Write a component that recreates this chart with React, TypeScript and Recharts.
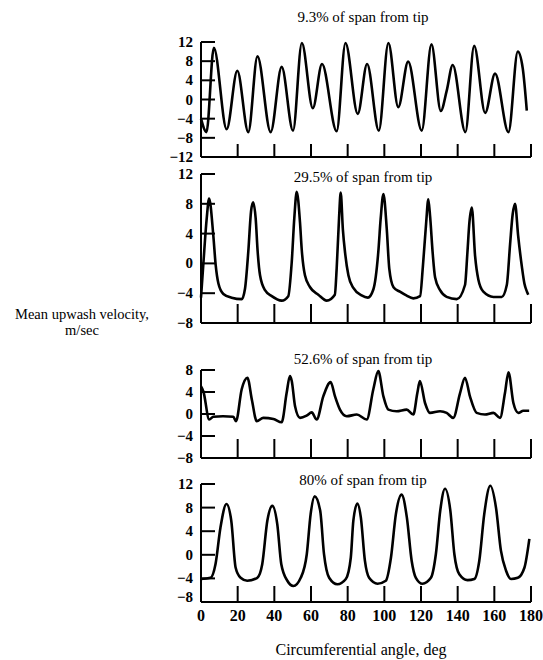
import { LineChart, Line, XAxis, YAxis } from 'recharts'

const serif = '"Liberation Serif", "DejaVu Serif", serif'

const angleTicks = [0, 20, 40, 60, 80, 100, 120, 140, 160, 180]

// 9.3% of span from tip
const tip93Angle = [0, 3, 7, 14, 19.8, 25.8, 30.8, 38, 44, 50.2, 55, 61, 66, 74, 78.8, 85.5, 90.6, 97, 102.2, 107.6, 113, 120.4, 125.7, 130.8, 134, 137.3, 144.2, 149, 155, 160.4, 167.7, 172.8, 175.5, 177.7]
const tip93Velocity = [-4, -6.8, 10.8, -6.2, 6, -6.8, 9, -6.8, 6.8, -6.5, 11.8, -1.8, 7.4, -6.6, 11.8, -3, 7.4, -6.5, 11.8, -1.6, 7.9, -6.5, 11.5, -2.4, 1.8, 7.2, -6.8, 11.2, -2.8, 5.4, -6.8, 10, 6.5, -2.3]

// 29.5% of span from tip
const tip295Angle = [0, 1.3, 3.1, 4.4, 6.7, 8, 9.5, 12.2, 16.7, 22.2, 24, 25.8, 27.3, 28.4, 29.8, 30.9, 32.2, 34.9, 38.6, 44, 47.6, 49.5, 50.9, 52.2, 54, 54.9, 56.7, 59.5, 64, 68.6, 73, 74, 75.3, 76.2, 77.4, 78.6, 80.4, 83.1, 87.6, 91, 94, 96.7, 98, 99.5, 101.3, 102.7, 105, 108.5, 112, 115.8, 119.5, 121, 122.8, 124, 125, 126.4, 127.7, 130.4, 134, 139.5, 144, 145.3, 146.4, 147.7, 149.5, 151.3, 154, 159.5, 164, 166.8, 168.6, 170, 171.3, 173, 175, 176.4, 177.8, 178.5]
const tip295Velocity = [-4.6, 0, 6, 8.7, 3.8, -0.2, -2.7, -4.1, -4.6, -4.8, -3.4, 1.6, 7, 8.2, 6.1, 1.6, -1.6, -3.6, -4.4, -5, -4.4, 0.2, 6.1, 9.6, 5.5, 2, -1.6, -3.2, -4.2, -5, -4.2, -0.7, 6.1, 9.5, 4.5, 1.4, -1.6, -3.3, -4.3, -4.6, -3.5, 1.5, 6, 9.3, 4.7, -0.7, -3.2, -3.8, -4.3, -4.7, -4.4, -0.5, 5.4, 8.6, 6.2, 1.3, -1.9, -3.6, -4.5, -4.8, -2.9, 1.4, 5.5, 7.5, 1, -2.2, -3.8, -4.5, -4.5, -2.9, 2.6, 6.6, 8, 3.7, -0.4, -2.7, -3.8, -4.2]

// 52.6% of span from tip
const tip526Angle = [0, 1.3, 4.5, 6.7, 12, 17.6, 19.1, 22.2, 25.3, 27.8, 30.4, 34, 39.5, 44, 46.7, 48.5, 49.5, 51.3, 54, 57.6, 60.4, 63.1, 66.7, 70.7, 73.1, 75.8, 79.5, 85, 90.4, 94, 96.7, 99.5, 102.2, 106.7, 112.2, 115.8, 118, 119.4, 122.2, 124.9, 130.4, 134, 137.6, 141.3, 144, 146.7, 150.4, 154.9, 159.5, 163.1, 165.8, 167.7, 170.4, 173.1, 175.8, 179]
const tip526Velocity = [5, 4.1, -1, -0.5, -0.4, -0.5, -1.3, 4.5, 6.6, 2.5, -1.3, -0.7, -0.9, -1.5, 3.8, 6.9, 6, 1.4, -0.7, -0.3, 0.3, -1, 3.2, 5.8, 3.2, 0.8, -0.4, -0.1, -1, 4.5, 7.8, 3.2, 0.8, 0.5, 0.8, -0.1, 3.8, 6, 2, 0.2, 0.5, 0.2, -0.7, 3.8, 6.6, 3.2, 0.2, -0.1, 0.2, -0.7, 3.8, 7.6, 2, 0.2, 0.6, 0.6]

// 80% of span from tip
const tip80Angle = [0, 5.2, 7.9, 10.6, 13.9, 16.5, 18.9, 21.6, 25.2, 30.7, 33.4, 36.2, 38.9, 41.6, 43.8, 47.1, 50.4, 54.4, 57.7, 59.8, 62, 65, 67.1, 69.9, 74.4, 79, 81.7, 83.1, 85.3, 87.2, 89.4, 91.7, 96.3, 100.8, 103.6, 106.3, 109.4, 112.3, 114.9, 117.2, 120.8, 125.4, 128.1, 130.5, 133.1, 136, 138.2, 140.9, 145.4, 149.1, 151.8, 154.5, 157.8, 160.9, 163.6, 166.4, 169.1, 172.8, 176.4, 179.1]
const tip80Velocity = [-4.1, -3.9, -1.6, 4.6, 8.6, 5.8, -2.2, -3.9, -4.4, -3.9, -1.6, 5.8, 8.3, 5.2, -1.6, -4.4, -5.3, -3.9, 0.1, 6.9, 9.9, 7.5, 0.1, -3.9, -5, -4.1, -0.5, 5.8, 8.7, 6.3, -1, -3.9, -4.9, -4.4, -0.5, 6.9, 10.2, 6.3, -1, -3.9, -4.9, -3.9, 0.1, 7.5, 11.2, 7.5, 0.1, -3.3, -4.3, -4.1, -1, 6.9, 11.7, 8, 0.7, -2.7, -4.1, -3.9, -2.2, 2.7]

const toRows = (angles: number[], values: number[]) =>
  angles.map((angle, i) => ({ angle, velocity: values[i] }))

const fmt = (v: number) => (v < 0 ? '\u2212' + Math.abs(v) : String(v))

type PanelProps = {
  top: number
  plotHeight: number
  yTicks: number[]
  data: { angle: number; velocity: number }[]
  xTickLen: number
  showAngles?: boolean
}

function Panel({ top, plotHeight, yTicks, data, xTickLen, showAngles }: PanelProps) {
  const yMin = yTicks[0]
  const yMax = yTicks[yTicks.length - 1]

  const YTick = (props: any) => {
    const { x, y, payload } = props
    const v = payload.value
    const lift = showAngles && v === yMin ? -5 : 0
    return (
      <g>
        {v !== yMin && <line x1={x} y1={y} x2={x + 14} y2={y} stroke="#000" strokeWidth={2} />}
        <text x={x - 8} y={y + lift} textAnchor="end" dominantBaseline="central" fontFamily={serif} fontWeight="bold" fontSize={15} fill="#000">
          {fmt(v)}
        </text>
      </g>
    )
  }

  const XTick = (props: any) => {
    const { x, y, payload } = props
    const v = payload.value
    return (
      <g>
        {v > 0 && <line x1={x} y1={y} x2={x} y2={y - xTickLen} stroke="#000" strokeWidth={2} />}
        {showAngles && (
          <text x={x} y={y + 13} textAnchor="middle" dominantBaseline="central" fontFamily={serif} fontWeight="bold" fontSize={16} fill="#000">
            {v}
          </text>
        )}
      </g>
    )
  }

  return (
    <div style={{ position: 'absolute', left: 0, top: top - 10 }}>
      <LineChart width={543} height={plotHeight + 40} data={data} margin={{ top: 10, right: 12, bottom: 0, left: 161 }}>
        <XAxis
          dataKey="angle"
          type="number"
          domain={[0, 180]}
          ticks={angleTicks}
          interval={0}
          height={30}
          tickSize={0}
          tickMargin={0}
          tickLine={false}
          axisLine={{ stroke: '#000', strokeWidth: 2 }}
          tick={XTick}
        />
        <YAxis
          type="number"
          domain={[yMin, yMax]}
          ticks={yTicks}
          interval={0}
          width={40}
          tickSize={0}
          tickMargin={0}
          tickLine={false}
          axisLine={{ stroke: '#000', strokeWidth: 2 }}
          tick={YTick}
        />
        <Line
          type="monotone"
          dataKey="velocity"
          stroke="#000"
          strokeWidth={2.6}
          dot={false}
          activeDot={false}
          isAnimationActive={false}
        />
      </LineChart>
    </div>
  )
}

const titleStyle = (y: number): React.CSSProperties => ({
  position: 'absolute',
  left: 243,
  width: 240,
  top: y - 9,
  textAlign: 'center',
  fontFamily: serif,
  fontSize: 15,
  lineHeight: '18px',
  color: '#000',
})

export default function App() {
  return (
    <div style={{ position: 'absolute', left: 0, top: 0, width: 543, height: 660, background: '#fff', overflow: 'hidden' }}>
      <Panel top={42} plotHeight={115} yTicks={[-12, -8, -4, 0, 4, 8, 12]} data={toRows(tip93Angle, tip93Velocity)} xTickLen={13} />
      <Panel top={174} plotHeight={149} yTicks={[-8, -4, 0, 4, 8, 12]} data={toRows(tip295Angle, tip295Velocity)} xTickLen={19} />
      <Panel top={370} plotHeight={88} yTicks={[-8, -4, 0, 4, 8]} data={toRows(tip526Angle, tip526Velocity)} xTickLen={19} />
      <Panel top={484} plotHeight={118} yTicks={[-8, -4, 0, 4, 8, 12]} data={toRows(tip80Angle, tip80Velocity)} xTickLen={16} showAngles />

      <div style={titleStyle(17)}>9.3% of span from tip</div>
      <div style={titleStyle(177)}>29.5% of span from tip</div>
      <div style={titleStyle(359)}>52.6% of span from tip</div>
      <div style={titleStyle(480)}>80% of span from tip</div>

      <div style={{ position: 'absolute', left: 0, width: 164, top: 306, textAlign: 'center', fontFamily: serif, fontSize: 14.5, lineHeight: '16px', color: '#000' }}>
        Mean upwash velocity,
        <br />
        m/sec
      </div>
      <div style={{ position: 'absolute', left: 211, width: 300, top: 641, textAlign: 'center', fontFamily: serif, fontSize: 16, lineHeight: '18px', color: '#000' }}>
        Circumferential angle, deg
      </div>
    </div>
  )
}
